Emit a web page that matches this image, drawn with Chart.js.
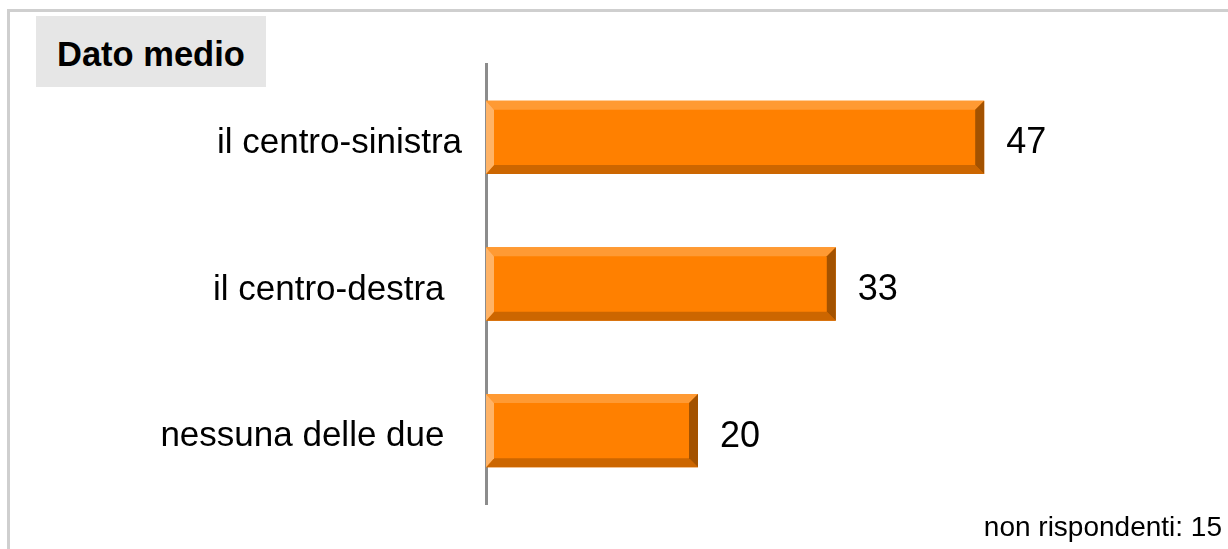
<!DOCTYPE html>
<html>
<head>
<meta charset="utf-8">
<script src="https://cdn.jsdelivr.net/npm/chart.js@4.4.0/dist/chart.umd.min.js"></script>
<style>
  body { margin: 0; background: #fff; font-family: "Liberation Sans", Arial, sans-serif; }
  #wrap { position: relative; width: 1228px; height: 549px; overflow: hidden; }
  #frame { position: absolute; left: 7px; top: 9px; width: 1300px; height: 600px;
           border-top: 3px solid #cfcfcf; border-left: 3px solid #cfcfcf; }
  #title { position: absolute; left: 36px; top: 16px; width: 209px; height: 50px;
           padding: 21px 0 0 21px; background: #e6e6e6; font-weight: bold;
           font-size: 34.5px; line-height: 35px; color: #000; }
  #note { position: absolute; right: 6px; top: 513px; font-size: 28px; line-height: 28px; color: #000; }
  canvas { position: absolute; left: 0; top: 0; }
</style>
</head>
<body>
<div id="wrap">
  <div id="frame"></div>
  <canvas id="myChart" width="1228" height="549"></canvas>
  <div id="title">Dato medio</div>
  <div id="note">non rispondenti: 15</div>
</div>
<script>
// the last two labels sit a bit further from the axis in the original
const labels = ["il centro-sinistra", "il centro-destra\u2002", "nessuna delle due\u2002"];
const values = [47, 33, 20];

// bevel + value labels on each bar
const bevelPlugin = {
  id: 'bevel',
  afterDatasetsDraw(chart) {
    const ctx = chart.ctx;
    const meta = chart.getDatasetMeta(0);
    meta.data.forEach((bar, i) => {
      let left = bar.base, right = bar.x;
      let top = bar.y - bar.height / 2, bottom = bar.y + bar.height / 2;
      let d = 9, dl = 8;
      let poly = (pts, color) => {
        ctx.beginPath();
        ctx.moveTo(pts[0][0], pts[0][1]);
        for (let j = 1; j < pts.length; j++) ctx.lineTo(pts[j][0], pts[j][1]);
        ctx.closePath();
        ctx.fillStyle = color;
        ctx.fill();
      };
      ctx.save();
      poly([[left, top], [right, top], [right - d, top + d], [left + dl, top + d]], '#ff9a33');
      poly([[left, bottom], [right, bottom], [right - d, bottom - d], [left + dl, bottom - d]], '#cc6600');
      poly([[left, top], [left + dl, top + d], [left + dl, bottom - d], [left, bottom]], '#ffb366');
      poly([[right, top], [right - d, top + d], [right - d, bottom - d], [right, bottom]], '#a35200');
      ctx.font = '36px "Liberation Sans", Arial, sans-serif';
      ctx.fillStyle = '#000';
      ctx.textAlign = 'left';
      ctx.textBaseline = 'middle';
      ctx.fillText(values[i], right + 22, bar.y + 6);
      ctx.restore();
    });
  }
};

const myChart = new Chart(document.getElementById('myChart'), {
  type: 'bar',
  data: {
    labels: labels,
    datasets: [{
      data: values,
      backgroundColor: '#ff8000',
      borderWidth: 0,
      barPercentage: 1,
      categoryPercentage: 0.5
    }]
  },
  options: {
    indexAxis: 'y',
    responsive: false,
    animation: false,
    layout: { padding: { top: 64, bottom: 42, left: 0, right: 0 } },
    plugins: { legend: { display: false }, tooltip: { enabled: false } },
    scales: {
      x: { display: false, min: 0, max: 70 },
      y: {
        grid: { display: false, drawTicks: false },
        border: { display: true, color: '#8c8c8c', width: 3 },
        ticks: {
          color: '#000',
          padding: 24,
          labelOffset: 6,
          font: { family: '"Liberation Sans", Arial, sans-serif', size: 35 }
        },
        afterFit(scale) { scale.width = 486; }
      }
    }
  },
  plugins: [bevelPlugin]
});
</script>
</body>
</html>
